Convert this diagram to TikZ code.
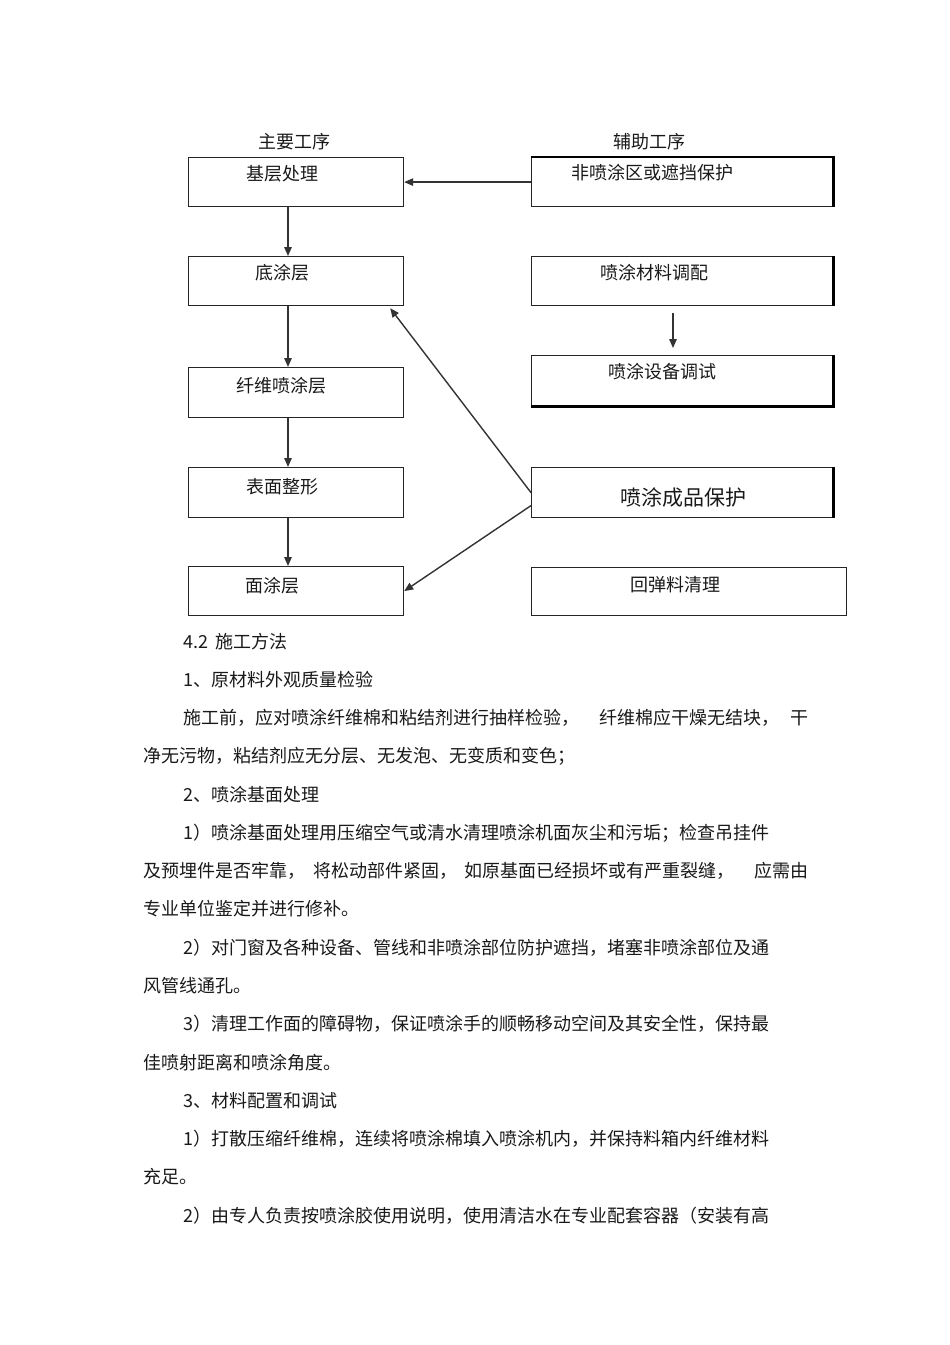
\documentclass[tikz,border=0pt]{standalone}
\usepackage{fontspec}
\newfontfamily\cjk{Noto Sans CJK SC}
\usetikzlibrary{arrows.meta}
\begin{document}
\begin{tikzpicture}[x=1pt,y=-1pt,
  box/.style={draw=black!85, line width=1.2pt, rectangle, inner sep=0pt, anchor=north west},
  lbl/.style={font=\cjk\fontsize{18}{18}\selectfont, inner sep=0pt, text=black!90},
  biglbl/.style={font=\cjk\fontsize{21}{21}\selectfont, inner sep=0pt, text=black!90},
  body/.style={font=\cjk\fontsize{18}{18}\selectfont, inner sep=0pt, anchor=base west, text=black!90},
  arr/.style={draw=black!80, line width=1.4pt, -{Triangle[length=9pt,width=7.5pt]}},
  edgethick/.style={line width=2.6pt, black}
]
\useasboundingbox (0,0) rectangle (950,1345);

% headers
\node[lbl] (h1) at (294,142) {主要工序};
\node[lbl] (h2) at (649,142) {辅助工序};

% main column boxes
\node[box, minimum width=215pt, minimum height=49pt] (m1) at (188,157) {};
\node[box, minimum width=215pt, minimum height=49pt] (m2) at (188,256) {};
\node[box, minimum width=215pt, minimum height=50pt] (m3) at (188,367) {};
\node[box, minimum width=215pt, minimum height=50pt] (m4) at (188,467) {};
\node[box, minimum width=215pt, minimum height=49pt] (m5) at (188,566) {};

% auxiliary column boxes
\node[box, minimum width=301pt, minimum height=49pt] (a1) at (531,157) {};
\node[box, minimum width=301pt, minimum height=49pt] (a2) at (531,256) {};
\node[box, minimum width=301pt, minimum height=50pt] (a3) at (531,355) {};
\node[box, minimum width=301pt, minimum height=50pt] (a4) at (531,467) {};
\node[box, minimum width=315pt, minimum height=48pt] (a5) at (531,567) {};

% heavier edges on the auxiliary boxes
\draw[edgethick] (a1.north west) -- (a1.north east) -- (a1.south east);
\draw[edgethick] (a2.north east) -- (a2.south east);
\draw[edgethick] (a3.north east) -- (a3.south east) -- (a3.south west);
\draw[edgethick] (a4.north east) -- (a4.south east);

% labels
\node[lbl] (l1) at (282,174) {基层处理};
\node[lbl] (l2) at (282,273) {底涂层};
\node[lbl] (l3) at (281.5,386) {纤维喷涂层};
\node[lbl] (l4) at (282,487) {表面整形};
\node[lbl] (l5) at (272,586) {面涂层};
\node[lbl] (r1) at (652,173) {非喷涂区或遮挡保护};
\node[lbl] (r2) at (654,273) {喷涂材料调配};
\node[lbl] (r3) at (662,372) {喷涂设备调试};
\node[biglbl] (r4) at (683,498) {喷涂成品保护};
\node[lbl] (r5) at (675,585) {回弹料清理};

% connectors
\coordinate (ax) at (288,0);
\coordinate (bx) at (673,0);
\draw[arr] (a1.west) -- (m1.east);
\draw[arr] (m1.south -| ax) -- (m2.north -| ax);
\draw[arr] (m2.south -| ax) -- (m3.north -| ax);
\draw[arr] (m3.south -| ax) -- (m4.north -| ax);
\draw[arr] (m4.south -| ax) -- (m5.north -| ax);
\draw[arr, shorten <=7pt, shorten >=7pt] (a2.south -| bx) -- (a3.north -| bx);
\draw[arr] (a4.west) -- ([xshift=-14pt,yshift=-2pt]m2.south east);
\draw[arr] ([yshift=-13pt]a4.west) -- (m5.east);

% body text
\node[body] (t1) at (183,648) {4.2\hspace{3pt} 施工方法};
\node[body] (t2) at (183,686) {1、原材料外观质量检验};
\node[body] (t3a) at (183,724) {施工前，应对喷涂纤维棉和粘结剂进行抽样检验，};
\node[body] (t3b) at (599,724) {纤维棉应干燥无结块，};
\node[body] (t3c) at (790,724) {干};
\node[body] (t4) at (143,762) {净无污物，粘结剂应无分层、无发泡、无变质和变色；};
\node[body] (t5) at (183,801) {2、喷涂基面处理};
\node[body] (t6) at (183,839) {1）喷涂基面处理用压缩空气或清水清理喷涂机面灰尘和污垢；检查吊挂件};
\node[body] (t7a) at (143,877) {及预埋件是否牢靠，};
\node[body] (t7b) at (313,877) {将松动部件紧固，};
\node[body] (t7c) at (464,877) {如原基面已经损坏或有严重裂缝，};
\node[body] (t7d) at (754,877) {应需由};
\node[body] (t8) at (143,915) {专业单位鉴定并进行修补。};
\node[body] (t9) at (183,954) {2）对门窗及各种设备、管线和非喷涂部位防护遮挡，堵塞非喷涂部位及通};
\node[body] (t10) at (143,992) {风管线通孔。};
\node[body] (t11) at (183,1030) {3）清理工作面的障碍物，保证喷涂手的顺畅移动空间及其安全性，保持最};
\node[body] (t12) at (143,1069) {佳喷射距离和喷涂角度。};
\node[body] (t13) at (183,1107) {3、材料配置和调试};
\node[body] (t14) at (183,1145) {1）打散压缩纤维棉，连续将喷涂棉填入喷涂机内，并保持料箱内纤维材料};
\node[body] (t15) at (143,1183) {充足。};
\node[body] (t16) at (183,1222) {2）由专人负责按喷涂胶使用说明，使用清洁水在专业配套容器（安装有高};
\end{tikzpicture}
\end{document}
